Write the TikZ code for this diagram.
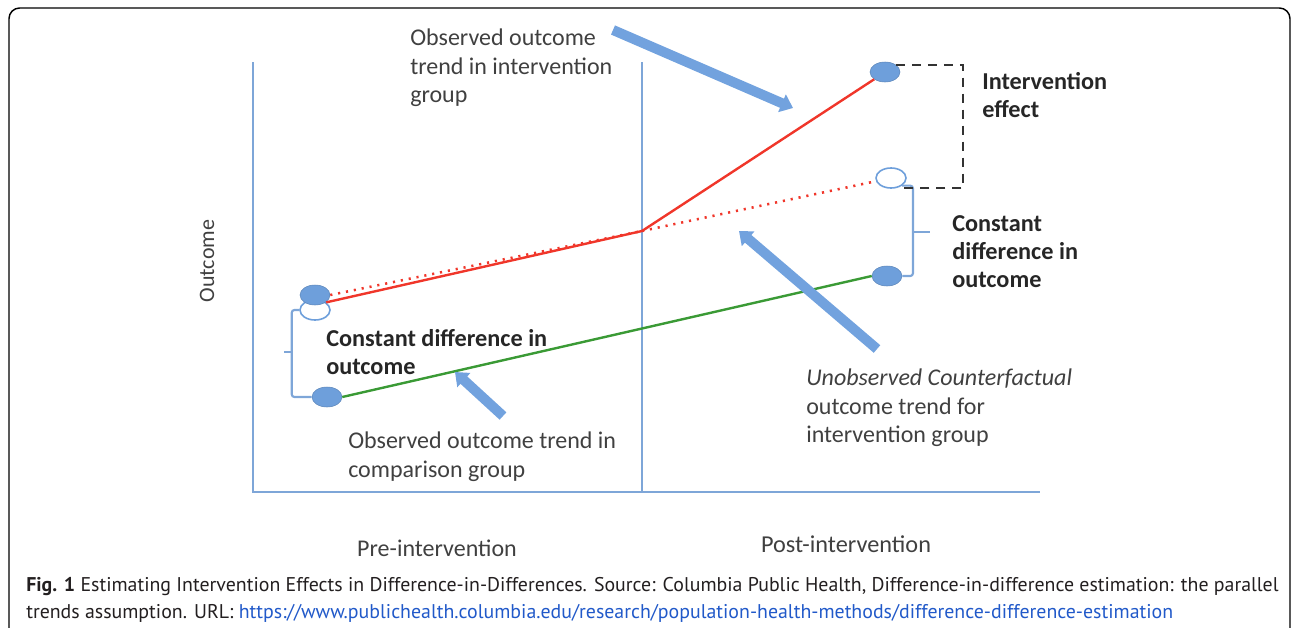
\documentclass[tikz,border=0pt]{standalone}
\usepackage{fontspec}
\setmainfont{Carlito}
\newfontfamily\capfont{PT Sans}
\usetikzlibrary{arrows.meta,shapes.geometric}
\definecolor{axblue}{HTML}{7EA6D8}
\definecolor{dotblue}{HTML}{6E9FDB}
\definecolor{arrblue}{HTML}{72A2DE}
\definecolor{txt}{HTML}{404040}
\definecolor{btxt}{HTML}{262626}
\definecolor{redl}{HTML}{F0362A}
\definecolor{greenl}{HTML}{3A9A35}
\definecolor{linkblue}{HTML}{2159C9}
\definecolor{capt}{HTML}{231F20}
\begin{document}
\begin{tikzpicture}[x=0.75pt,y=-0.75pt,
  lbl/.style={font=\fontsize{18}{21.3}\selectfont, text=txt, align=left, anchor=north west, inner sep=0pt},
  blbl/.style={lbl, text=btxt, font=\fontsize{18.2}{21.3}\selectfont\bfseries},
  axis/.style={draw=axblue, line width=2.2pt},
  fdot/.style={ellipse, minimum width=22.5pt, minimum height=15pt, inner sep=0pt, fill=dotblue, draw=dotblue!85!black, line width=0.4pt},
  odot/.style={ellipse, minimum width=22.5pt, minimum height=15pt, inner sep=0pt, fill=white, draw=dotblue, line width=1.2pt},
  redsolid/.style={draw=redl, line width=1.8pt},
  reddot/.style={draw=redl, line width=1.9pt, dash pattern=on 1.6pt off 4.4pt},
  greensolid/.style={draw=greenl, line width=1.8pt},
  brk/.style={draw=axblue, line width=1.6pt, rounded corners=2pt},
  effd/.style={draw=black!80, line width=1.8pt, dash pattern=on 7pt off 5pt},
  barrow/.style={draw=arrblue, line width=7.5pt, -{Triangle[width=14pt,length=9pt]}},
  captext/.style={font=\capfont\fontsize{14.9}{20}\selectfont, text=capt, anchor=base west, inner sep=0pt}
]
\useasboundingbox (0,0) rectangle (1292,628);
% frame
\draw[line width=1.1pt, rounded corners=8pt] (9,640) -- (9,8) -- (1290,8) -- (1290,640);
% axes
\coordinate (o) at (253,492);
\coordinate (ytop) at (253,62);
\coordinate (xend) at (1040,492);
\coordinate (mtop) at (642,62);
\coordinate (mbot) at (642,492);
\draw[axis] (ytop) -- (o) -- (xend);
\draw[axis] (mtop) -- (mbot);
% points
\node[odot] (ca) at (315,310) {};
\node[fdot] (ia) at (315,295) {};
\node[fdot] (ga) at (327,397) {};
\node[fdot] (ib) at (885,72) {};
\node[fdot] (gb) at (887,276) {};
\coordinate (k) at (642,231);
% lines
\draw[reddot] (ia.east) -- (k);
\draw[redsolid] (ca.north east) -- (k) -- (ib.south west);
\draw[reddot] (k) -- (891,178);
\node[odot] (cb) at (891,178) {};
\draw[greensolid] (ga.east) -- (gb.west);
% brackets
\draw[brk] (ca.west) -| ([xshift=-15pt]ga.west) -- (ga.west);
\draw[brk] (292,352) -- (284,352);
\draw[brk] (cb.south east) -| ([xshift=8pt]gb.east) -- (gb.east);
\draw[brk] (913,232) -- (930,232);
\draw[effd] (ib.north east) -| (963,188) -- (898,188);
% block arrows
\coordinate (a1s) at (613,30);
\coordinate (a1e) at (793,108);
\coordinate (a2s) at (877,349);
\coordinate (a2e) at (739,231);
\coordinate (a3s) at (503,416);
\coordinate (a3e) at (455,372);
\draw[barrow] (a1s) -- (a1e);
\draw[barrow] (a2s) -- (a2e);
\draw[barrow] (a3s) -- (a3e);
% labels
\node[lbl] (t1) at (410,29) {Observed outcome\\trend in intervention\\group};
\node[blbl] (t2) at (982,72) {Intervention\\effect};
\node[blbl] (t3) at (952,215) {Constant\\difference in\\outcome};
\node[blbl] (t4) at (326,329) {Constant difference in\\outcome};
\node[lbl] (t5) at (348,432) {Observed outcome trend in\\comparison group};
\node[lbl] (t6) at (806,369) {\itshape Unobserved Counterfactual\\outcome trend for\\intervention group};
\node[lbl, anchor=center, rotate=90, font=\fontsize{16.5}{20}\selectfont] (ylab) at (207,261) {Outcome};
\node[lbl, anchor=base] (pre) at (437,556) {Pre-intervention};
\node[lbl, anchor=base, font=\fontsize{18.2}{21.3}\selectfont] (post) at (846,552) {Post-intervention};
% caption
\node[captext] (cap1) at (26,591) {\textbf{Fig. 1} Estimating Intervention Effects in Difference-in-Differences. Source: Columbia Public Health, Difference-in-difference estimation: the parallel};
\node[captext] (cap2) at (26,618) {trends assumption. URL: \textcolor{linkblue}{https://www.publichealth.columbia.edu/research/population-health-methods/difference-difference-estimation}};
\end{tikzpicture}
\end{document}
